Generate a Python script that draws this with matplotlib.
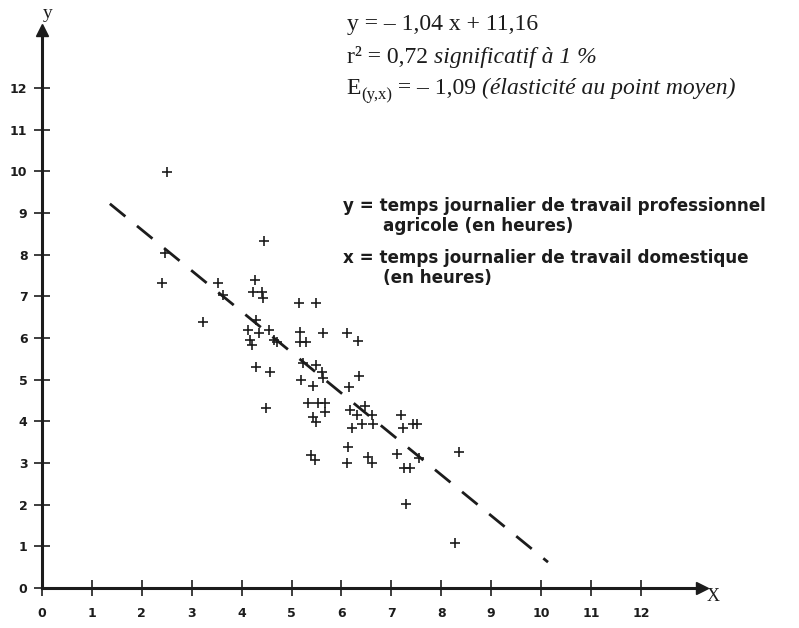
import matplotlib
matplotlib.use("Agg")
import matplotlib.pyplot as plt

# ---- data ----
x_vals = [2.50, 4.45, 2.46, 2.40, 3.53, 3.63, 4.27, 4.23, 4.40, 4.43,
          3.23, 4.29, 4.13, 4.17, 4.20, 4.35, 4.54, 4.64, 4.70, 5.14,
          5.50, 5.17, 5.17, 5.30, 5.63, 6.12, 6.34, 4.29, 4.56, 5.24,
          5.50, 5.61, 5.64, 5.20, 5.44, 6.36, 6.15, 4.49, 5.34, 5.54,
          5.67, 5.67, 5.44, 5.50, 6.17, 6.31, 6.41, 6.47, 6.21, 6.61,
          6.64, 7.19, 7.24, 7.43, 7.52, 6.14, 6.11, 5.40, 5.47, 6.54,
          6.61, 7.12, 7.56, 7.25, 7.38, 8.36, 7.29, 8.27]
y_vals = [9.99, 8.33, 8.03, 7.31, 7.31, 7.03, 7.39, 7.11, 7.11, 6.95,
          6.39, 6.43, 6.19, 5.95, 5.83, 6.11, 6.19, 5.95, 5.91, 6.83,
          6.83, 6.15, 5.91, 5.91, 6.13, 6.11, 5.93, 5.31, 5.19, 5.39,
          5.35, 5.19, 5.04, 4.99, 4.85, 5.09, 4.82, 4.32, 4.43, 4.43,
          4.43, 4.23, 4.11, 3.99, 4.27, 4.15, 3.94, 4.37, 3.83, 4.15,
          3.94, 4.15, 3.84, 3.94, 3.94, 3.39, 2.99, 3.19, 3.07, 3.15,
          2.99, 3.22, 3.11, 2.88, 2.88, 3.27, 2.02, 1.07]
line_x = [1.36, 10.14]
line_y = [9.22, 0.62]
ticks = list(range(13))
tick_labels = [str(t) for t in ticks]

W, H = 799, 628
ink = "#1c1c1c"

fig = plt.figure(figsize=(W / 100, H / 100), dpi=100)
ax = fig.add_axes([0, 0, 1, 1])
ax.set_xlim(-0.842, 15.17)
ax.set_ylim(-0.96, 14.11)

for s in ["top", "right"]:
    ax.spines[s].set_visible(False)
for s in ["left", "bottom"]:
    ax.spines[s].set_position(("data", 0))
    ax.spines[s].set_linewidth(2.2)
    ax.spines[s].set_color(ink)
ax.spines["left"].set_bounds(0, 13.3)
ax.spines["bottom"].set_bounds(0, 13.15)
ax.plot([13.22], [0], marker=">", ms=9, color=ink, clip_on=False)
ax.plot([0], [13.38], marker="^", ms=9, color=ink, clip_on=False)

ax.set_xticks(ticks)
ax.set_xticklabels(tick_labels)
ax.set_yticks(ticks)
ax.set_yticklabels(tick_labels)
ax.tick_params(direction="inout", length=11, width=1.2, color=ink,
               labelsize=9, labelcolor=ink)
ax.tick_params(axis="x", pad=8)
ax.tick_params(axis="y", pad=5)
for lab in ax.get_xticklabels() + ax.get_yticklabels():
    lab.set_fontweight("bold")

ax.text(0.12, 13.78, "y", family="Liberation Serif", fontsize=14,
        ha="center", va="center", color=ink)
ax.text(13.45, -0.2, "X", family="Liberation Serif", fontsize=13,
        ha="center", va="center", color=ink)

# regression line (dashed)
ax.plot(line_x, line_y, color=ink, lw=2.0, linestyle=(0, (7.2, 5.4)),
        dash_capstyle="butt")

# observations
ax.plot(x_vals, y_vals, linestyle="none", marker="+", ms=7, mew=1.2, color=ink)

# ---- annotations ----
fig.canvas.draw()
r = fig.canvas.get_renderer()


def put(x_px, base_px, s, **kw):
    t = fig.text(x_px / W, 1 - base_px / H, s, va="baseline", ha="left",
                 color=ink, **kw)
    return t.get_window_extent(renderer=r).x1


serif = dict(family="Liberation Serif", fontsize=17)
serif_it = dict(family="Liberation Serif", fontsize=17, style="italic")

put(346.7, 30, "y = – 1,04 x + 11,16", **serif)
x1 = put(346.7, 63, "r² = 0,72 ", **serif)
put(x1, 63, "significatif à 1 %", **serif_it)
x1 = put(346.7, 94, "E", **serif)
x1 = put(x1, 99, "(y,x)", family="Liberation Serif", fontsize=12)
x1 = put(x1, 94, " = – 1,09 ", **serif)
put(x1, 94, "(élasticité au point moyen)", **serif_it)

sans = dict(family="DejaVu Sans", fontsize=12.1, fontweight="bold")
put(343, 211, "y = temps journalier de travail professionnel", **sans)
put(382.7, 231, "agricole (en heures)", **sans)
put(343, 263, "x = temps journalier de travail domestique", **sans)
put(382.7, 283, "(en heures)", **sans)

fig.savefig("out.png", dpi=100)
